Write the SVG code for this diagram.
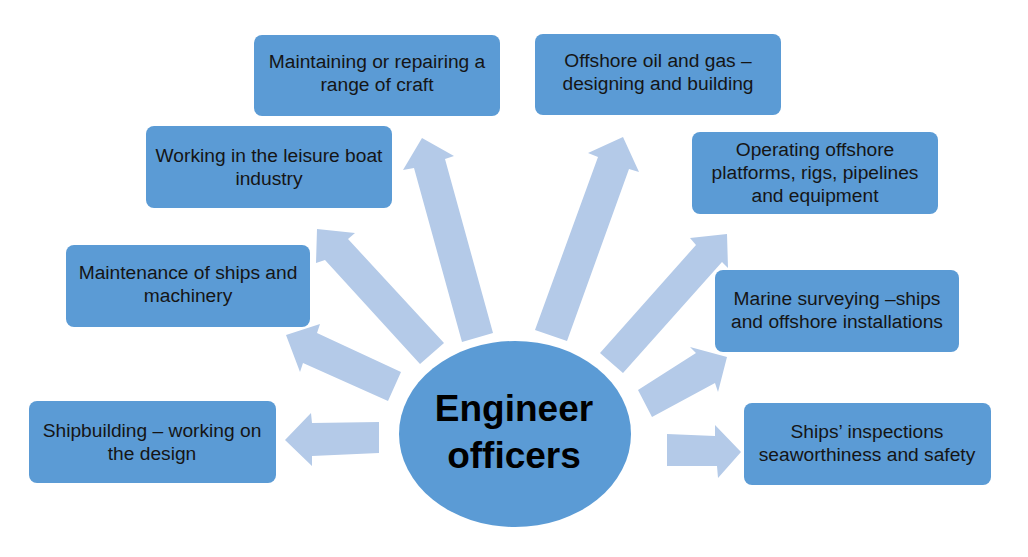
<svg xmlns="http://www.w3.org/2000/svg" width="1028" height="557" viewBox="0 0 1028 557">
<style>
.box{fill:#5B9BD5}
.arr{fill:#B4CAE8}
.t{font-family:"Liberation Sans",Arial,sans-serif;font-size:19.2px;fill:#151515;text-anchor:middle}
.big{font-family:"Liberation Sans",Arial,sans-serif;font-size:37px;font-weight:bold;fill:#000;text-anchor:middle}
</style>
<rect width="1028" height="557" fill="#fff"/>
<g id="connectors">
<polygon class="arr" points="379,422 312,423 311,413 285,440 312,466 312,456 379,453"/>
<polygon class="arr" points="401,372 317,333 320,324 286,335 300,372 303,363 388,401"/>
<polygon class="arr" points="444,343 348,239 355,233 317,229 316,263 325,260 420,364"/>
<polygon class="arr" points="493,333 445,159 454,156 422,138 403,170 414,168 462,342"/>
<polygon class="arr" points="535,330 598,157 588,153 623,137 639,172 629,169 567,341"/>
<polygon class="arr" points="600,353 696,245 690,238 727,234 728,268 722,262 623,373"/>
<polygon class="arr" points="638,390 696,353 690,347 727,357 718,392 715,383 652,417"/>
<polygon class="arr" points="667,434 715,436 715,425 741,452 718,478 717,466 667,466"/>
</g>
<g id="center">
<ellipse cx="515" cy="434" rx="116" ry="93" class="box"/>
<text class="big" x="514" y="421">Engineer</text>
<text class="big" x="514" y="468">officers</text>
</g>
<g id="n1">
<rect class="box" x="29" y="401" width="247" height="82" rx="8"/>
<text class="t" x="152" y="437">Shipbuilding – working on</text>
<text class="t" x="152" y="460">the design</text>
</g>
<g id="n2">
<rect class="box" x="66" y="245" width="244" height="82" rx="8"/>
<text class="t" x="188" y="279">Maintenance of ships and</text>
<text class="t" x="188" y="302">machinery</text>
</g>
<g id="n3">
<rect class="box" x="146" y="126" width="246" height="82" rx="8"/>
<text class="t" x="269" y="162">Working in the leisure boat</text>
<text class="t" x="269" y="185">industry</text>
</g>
<g id="n4">
<rect class="box" x="254" y="35" width="246" height="81" rx="8"/>
<text class="t" x="377" y="68">Maintaining or repairing a</text>
<text class="t" x="377" y="91">range of craft</text>
</g>
<g id="n5">
<rect class="box" x="535" y="34" width="246" height="81" rx="8"/>
<text class="t" x="658" y="67">Offshore oil and gas –</text>
<text class="t" x="658" y="90">designing and building</text>
</g>
<g id="n6">
<rect class="box" x="692" y="132" width="246" height="82" rx="8"/>
<text class="t" x="815" y="156">Operating offshore</text>
<text class="t" x="815" y="179">platforms, rigs, pipelines</text>
<text class="t" x="815" y="202">and equipment</text>
</g>
<g id="n7">
<rect class="box" x="715" y="270" width="244" height="82" rx="8"/>
<text class="t" x="837" y="305">Marine surveying –ships</text>
<text class="t" x="837" y="328">and offshore installations</text>
</g>
<g id="n8">
<rect class="box" x="744" y="403" width="247" height="82" rx="8"/>
<text class="t" x="867" y="438">Ships’ inspections</text>
<text class="t" x="867" y="461">seaworthiness and safety</text>
</g>
</svg>
